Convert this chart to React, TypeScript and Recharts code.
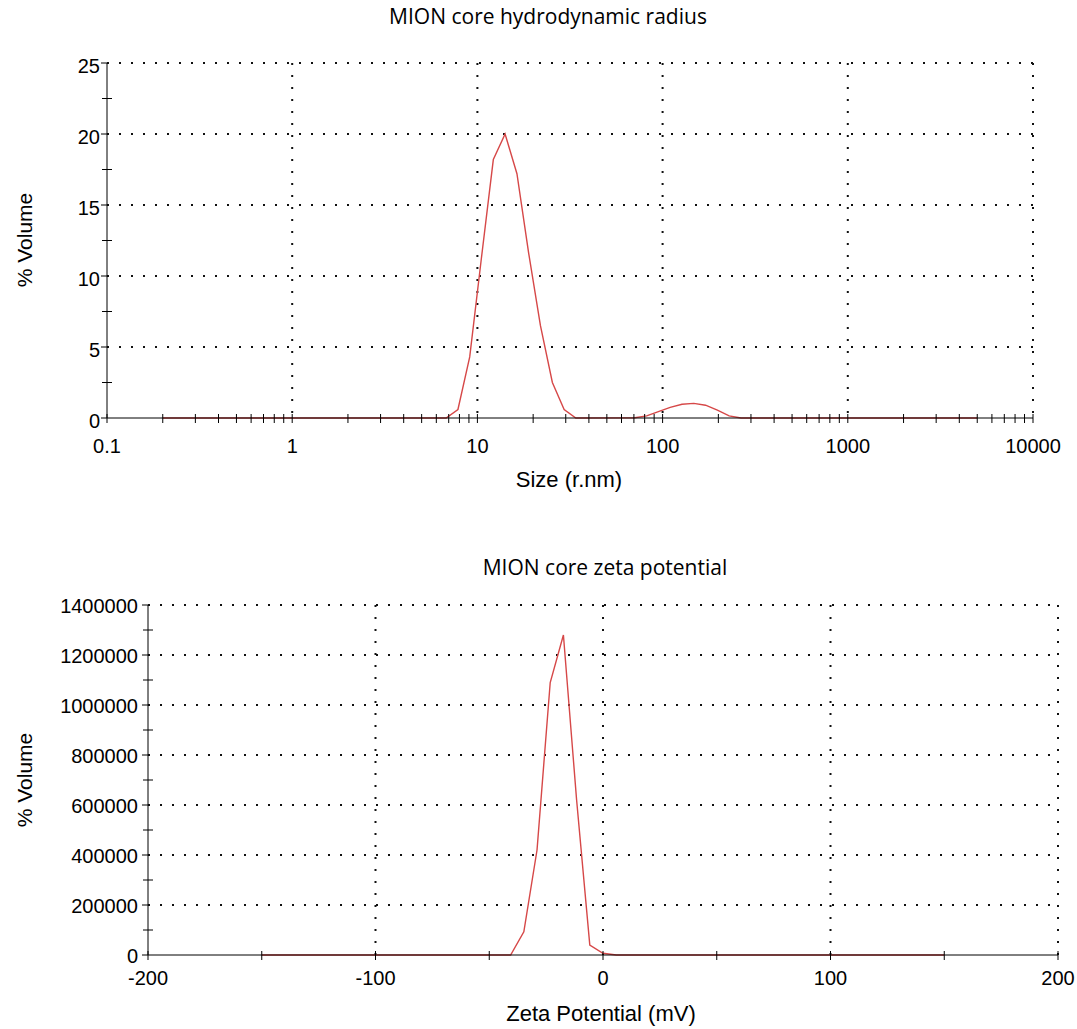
import React from 'react';
import { LineChart, Line, XAxis, YAxis, CartesianGrid } from 'recharts';

const W = 1077;
const H = 1029;
const RED = '#d64848';
const INK = '#000';
const TICK_FONT = '"Liberation Sans", Arial, sans-serif';
const TITLE_FONT = '"Open Sans", sans-serif';

// Size distribution (hydrodynamic radius, nm)
const sizeNm = [0.2, 6.78, 7.85, 9.09, 10.52, 12.19, 14.11, 16.35, 18.92, 21.9, 25.4, 29.4, 34.0, 70.8, 82.0, 94.9, 109.9, 127.3, 147.4, 170.6, 197.6, 228.8, 265.0, 5000];
const sizeVolume = [0, 0, 0.6, 4.3, 11.3, 18.2, 20.0, 17.2, 11.6, 6.5, 2.5, 0.6, 0, 0.02, 0.15, 0.45, 0.75, 0.97, 1.03, 0.9, 0.55, 0.15, 0, 0];

// Zeta potential distribution (mV)
const zetaMv = [-150, -40.6, -34.8, -29.0, -23.2, -17.4, -11.6, -5.8, 0, 5.8, 150];
const zetaVolume = [0, 0, 93000, 420000, 1090000, 1280000, 620000, 40000, 7000, 0, 0];

// axis ticks
const sizeMajorTicks = [0.1, 1, 10, 100, 1000, 10000];
const sizeMinorTicks = [
  0.2, 0.3, 0.4, 0.5, 0.6, 0.7, 0.8, 0.9,
  2, 3, 4, 5, 6, 7, 8, 9,
  20, 30, 40, 50, 60, 70, 80, 90,
  200, 300, 400, 500, 600, 700, 800, 900,
  2000, 3000, 4000, 5000, 6000, 7000, 8000, 9000,
];
const volumeMajorTicks = [0, 5, 10, 15, 20, 25];
const volumeMinorTicks = [2.5, 7.5, 12.5, 17.5, 22.5];
const zetaMajorTicks = [-200, -100, 0, 100, 200];
const zetaMinorTicks = [-150, -50, 50, 150];
const zetaVolMajorTicks = [0, 200000, 400000, 600000, 800000, 1000000, 1200000, 1400000];
const zetaVolMinorTicks = [100000, 300000, 500000, 700000, 900000, 1100000, 1300000];

const sizeData = sizeNm.map((s, i) => ({ size: s, volume: sizeVolume[i] }));
const zetaData = zetaMv.map((z, i) => ({ zeta: z, volume: zetaVolume[i] }));

const makeXTick = (majors: number[], labelDy: number) => (props: any) => {
  const { x, y, payload } = props;
  const isMajor = majors.includes(payload.value);
  return (
    <g>
      <line x1={x} x2={x} y1={y - 4} y2={y + 5} stroke={INK} strokeWidth={1} />
      {isMajor && (
        <text x={x} y={y + labelDy} textAnchor="middle" fontSize={20} fontFamily={TICK_FONT} fill="#000">
          {String(payload.value)}
        </text>
      )}
    </g>
  );
};

const makeYTick = (majors: number[], gap: number, dy: number) => (props: any) => {
  const { x, y, payload } = props;
  const isMajor = majors.includes(payload.value);
  return (
    <g>
      {isMajor ? (
        <line x1={x - 6} x2={x} y1={y} y2={y} stroke={INK} strokeWidth={1} />
      ) : (
        <line x1={x - 5} x2={x + 5} y1={y} y2={y} stroke={INK} strokeWidth={1} />
      )}
      {isMajor && (
        <text x={x - gap} y={y + dy} textAnchor="end" fontSize={20} fontFamily={TICK_FONT} fill="#000">
          {String(payload.value)}
        </text>
      )}
    </g>
  );
};

const gridProps = {
  stroke: '#111',
  strokeWidth: 2,
  strokeDasharray: '2 10',
};

export default function App() {
  return (
    <div style={{ position: 'absolute', left: 0, top: 0, width: W, height: H, background: '#fff' }}>
      <div style={{ position: 'absolute', left: 0, top: 0 }}>
        <LineChart width={W} height={500} data={sizeData} margin={{ top: 63, right: 44, left: 47, bottom: 52 }}>
          <CartesianGrid
            {...gridProps}
            horizontalValues={[5, 10, 15, 20, 25]}
            verticalValues={[1, 10, 100, 1000, 10000]}
          />
          <XAxis
            dataKey="size"
            type="number"
            scale="log"
            domain={[0.1, 10000]}
            ticks={[...sizeMajorTicks, ...sizeMinorTicks]}
            interval={0}
            allowDataOverflow
            height={30}
            tickSize={0}
            tickMargin={0}
            tickLine={false}
            axisLine={{ stroke: INK, strokeWidth: 1 }}
            tick={makeXTick(sizeMajorTicks, 35)}
          />
          <YAxis
            type="number"
            domain={[0, 25]}
            ticks={[...volumeMajorTicks, ...volumeMinorTicks]}
            interval={0}
            width={60}
            tickSize={0}
            tickMargin={0}
            tickLine={false}
            axisLine={{ stroke: INK, strokeWidth: 1 }}
            tick={makeYTick(volumeMajorTicks, 7, 9.5)}
          />
          <Line
            type="linear"
            dataKey="volume"
            stroke={RED}
            strokeWidth={1.4}
            dot={false}
            activeDot={false}
            isAnimationActive={false}
          />
        </LineChart>
      </div>
      <div style={{ position: 'absolute', left: 0, top: 520 }}>
        <LineChart width={W} height={509} data={zetaData} margin={{ top: 85, right: 19, left: 88, bottom: 44 }}>
          <CartesianGrid
            {...gridProps}
            horizontalValues={[200000, 400000, 600000, 800000, 1000000, 1200000, 1400000]}
            verticalValues={[-100, 0, 100, 200]}
          />
          <XAxis
            dataKey="zeta"
            type="number"
            domain={[-200, 200]}
            ticks={[...zetaMajorTicks, ...zetaMinorTicks]}
            interval={0}
            height={30}
            tickSize={0}
            tickMargin={0}
            tickLine={false}
            axisLine={{ stroke: INK, strokeWidth: 1 }}
            tick={makeXTick(zetaMajorTicks, 30)}
          />
          <YAxis
            type="number"
            domain={[0, 1400000]}
            ticks={[...zetaVolMajorTicks, ...zetaVolMinorTicks]}
            interval={0}
            width={60}
            tickSize={0}
            tickMargin={0}
            tickLine={false}
            axisLine={{ stroke: INK, strokeWidth: 1 }}
            tick={makeYTick(zetaVolMajorTicks, 10, 8)}
          />
          <Line
            type="linear"
            dataKey="volume"
            stroke={RED}
            strokeWidth={1.4}
            dot={false}
            activeDot={false}
            isAnimationActive={false}
          />
        </LineChart>
      </div>
      <svg width={W} height={H} style={{ position: 'absolute', left: 0, top: 0, pointerEvents: 'none' }}>
        <text x={548} y={24} textAnchor="middle" fontSize={21} fontFamily={TITLE_FONT} fill="#000">
          MION core hydrodynamic radius
        </text>
        <text x={569} y={487} textAnchor="middle" fontSize={22} fontFamily={TICK_FONT} fill="#000">
          Size (r.nm)
        </text>
        <text transform="translate(32,240) rotate(-90)" textAnchor="middle" fontSize={21} fontFamily={TICK_FONT} fill="#000">
          % Volume
        </text>
        <text x={605} y={575} textAnchor="middle" fontSize={21} fontFamily={TITLE_FONT} fill="#000">
          MION core zeta potential
        </text>
        <text x={601} y={1021} textAnchor="middle" fontSize={22} fontFamily={TICK_FONT} fill="#000">
          Zeta Potential (mV)
        </text>
        <text transform="translate(32,780) rotate(-90)" textAnchor="middle" fontSize={21} fontFamily={TICK_FONT} fill="#000">
          % Volume
        </text>
      </svg>
    </div>
  );
}
